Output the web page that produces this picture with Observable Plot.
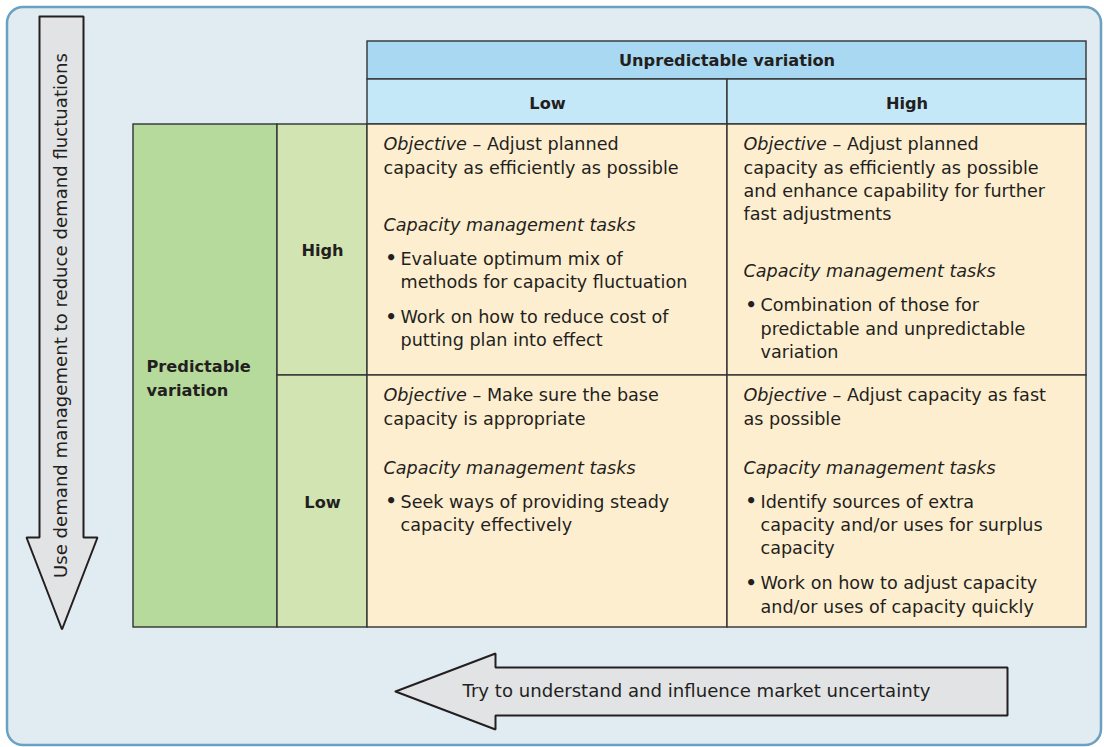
<!DOCTYPE html>
<html>
<head>
<meta charset="utf-8">
<script src="https://cdn.jsdelivr.net/npm/d3@7"></script>
<script src="https://cdn.jsdelivr.net/npm/@observablehq/plot@0.6"></script>
<style>
  html, body { margin: 0; padding: 0; background: #ffffff; }
  #chart svg { display: block; }
</style>
</head>
<body>
<div id="chart"></div>
<script>
// ---------------- DATA (content only) ----------------
const colTitle = "Unpredictable variation";
const colLevels = ["Low", "High"];
const rowTitle = "Predictable\nvariation";
const rowLevels = ["High", "Low"];
const taskHeading = "Capacity management tasks";
// objectives[row][col]
const objectives = [
  ["Objective – Adjust planned\ncapacity as efficiently as possible",
   "Objective – Adjust planned\ncapacity as efficiently as possible\nand enhance capability for further\nfast adjustments"],
  ["Objective – Make sure the base\ncapacity is appropriate",
   "Objective – Adjust capacity as fast\nas possible"]
];
// tasks[row][col] = list of bullet items
const tasks = [
  [["Evaluate optimum mix of\nmethods for capacity fluctuation",
    "Work on how to reduce cost of\nputting plan into effect"],
   ["Combination of those for\npredictable and unpredictable\nvariation"]],
  [["Seek ways of providing steady\ncapacity effectively"],
   ["Identify sources of extra\ncapacity and/or uses for surplus\ncapacity",
    "Work on how to adjust capacity\nand/or uses of capacity quickly"]]
];
const downArrowLabel = "Use demand management to reduce demand fluctuations";
const leftArrowLabel = "Try to understand and influence market uncertainty";

// ---------------- LAYOUT & STYLE ----------------
const W = 1104, H = 747;
const frame = {x1: 7, y1: 7, x2: 1101, y2: 745, r: 16};
const colEdges = [367, 727, 1086];
const headerEdges = [41, 79, 124];
const rowEdges = [124, 375, 627];
const labelEdges = [133, 277, 367];
const downArrow = {sx1: 39, sx2: 83, top: 16, headY: 537, hx1: 26, hx2: 97, tip: 629, labelY: 315};
const leftArrow = {tip: 395, headX: 495, hy1: 653, hy2: 729, sy1: 667, sy2: 715, end: 1007, labelX: 696};
const LH = 23.3, firstBase = 26, headingGap = [57, 49], taskGap = 34, bulletGap = 35;
const padX = 16, bulletX = 18, bulletTextX = 33;
const FS = 17.6, FS_BOLD = 16.2, FS_ARROW = 18.1;
const FONT = "'DejaVu Sans', Verdana, sans-serif";
const C = {
  frameFill: "#e0ebf2", frameStroke: "#6aa0c0",
  arrowFill: "#e2e3e5", ink: "#231f20", grid: "#333333",
  head1: "#a8d8f2", head2: "#c4e8f8",
  green1: "#b6da9c", green2: "#d1e4b1", cream: "#feeed0"
};

// shapes built from layout
const downPts = [
  [downArrow.sx1, downArrow.top], [downArrow.sx2, downArrow.top],
  [downArrow.sx2, downArrow.headY], [downArrow.hx2, downArrow.headY],
  [(downArrow.hx1 + downArrow.hx2) / 2, downArrow.tip],
  [downArrow.hx1, downArrow.headY], [downArrow.sx1, downArrow.headY],
  [downArrow.sx1, downArrow.top]
];
const leftPts = [
  [leftArrow.tip, (leftArrow.hy1 + leftArrow.hy2) / 2],
  [leftArrow.headX, leftArrow.hy1], [leftArrow.headX, leftArrow.sy1],
  [leftArrow.end, leftArrow.sy1], [leftArrow.end, leftArrow.sy2],
  [leftArrow.headX, leftArrow.sy2], [leftArrow.headX, leftArrow.hy2],
  [leftArrow.tip, (leftArrow.hy1 + leftArrow.hy2) / 2]
];

const boxes = [
  {x1: colEdges[0], x2: colEdges[2], y1: headerEdges[0], y2: headerEdges[1], fill: C.head1},
  ...colLevels.map((c, j) => ({x1: colEdges[j], x2: colEdges[j + 1], y1: headerEdges[1], y2: headerEdges[2], fill: C.head2})),
  {x1: labelEdges[0], x2: labelEdges[1], y1: rowEdges[0], y2: rowEdges[2], fill: C.green1},
  ...rowLevels.map((r, i) => ({x1: labelEdges[1], x2: labelEdges[2], y1: rowEdges[i], y2: rowEdges[i + 1], fill: C.green2})),
  ...rowLevels.flatMap((r, i) => colLevels.map((c, j) => ({x1: colEdges[j], x2: colEdges[j + 1], y1: rowEdges[i], y2: rowEdges[i + 1], fill: C.cream})))
];

const headerTexts = [
  {x: (colEdges[0] + colEdges[2]) / 2, y: (headerEdges[0] + headerEdges[1]) / 2, text: colTitle},
  ...colLevels.map((c, j) => ({x: (colEdges[j] + colEdges[j + 1]) / 2, y: (headerEdges[1] + headerEdges[2]) / 2 + 2, text: c})),
  ...rowLevels.map((r, i) => ({x: (labelEdges[1] + labelEdges[2]) / 2, y: (rowEdges[i] + rowEdges[i + 1]) / 2 + 1, text: r}))
];

// paragraphs: y = first baseline
const paras = [];
rowLevels.forEach((r, i) => colLevels.forEach((c, j) => {
  const x0 = colEdges[j];
  let y = rowEdges[i] + firstBase;
  const obj = objectives[i][j];
  paras.push({x: x0 + padX, y, text: obj, kind: "obj"});
  y += (obj.split("\n").length - 1) * LH + headingGap[i];
  paras.push({x: x0 + padX, y, text: taskHeading, kind: "head"});
  tasks[i][j].forEach((b, bi) => {
    y += bi ? bulletGap : taskGap;
    paras.push({x: x0 + bulletX, y, text: "•", kind: "bullet"});
    paras.push({x: x0 + bulletTextX, y, text: b, kind: "task"});
    y += (b.split("\n").length - 1) * LH;
  });
}));

const lh = LH / FS; // line height in em
const paraOpts = {x: "x", y: d => d.y - 0.71 * LH, text: "text", textAnchor: "start", lineAnchor: "top", lineHeight: lh, fontSize: FS, fill: C.ink};

const chart = Plot.plot({
  width: W, height: H, margin: 0,
  x: {domain: [0, W], range: [0, W], axis: null},
  y: {domain: [0, H], range: [0, H], axis: null},
  color: {type: "identity"},
  style: {fontFamily: FONT, background: "transparent", color: C.ink},
  marks: [
    Plot.rect([frame], {x1: "x1", x2: "x2", y1: "y1", y2: "y2", rx: frame.r, fill: C.frameFill, stroke: C.frameStroke, strokeWidth: 2.5}),
    Plot.line(downPts, {x: d => d[0], y: d => d[1], fill: C.arrowFill, stroke: C.ink, strokeWidth: 2, strokeLinejoin: "miter"}),
    Plot.line(leftPts, {x: d => d[0], y: d => d[1], fill: C.arrowFill, stroke: C.ink, strokeWidth: 2, strokeLinejoin: "miter"}),
    Plot.text([downArrowLabel], {x: (downArrow.sx1 + downArrow.sx2) / 2, y: downArrow.labelY, text: d => d, rotate: -90, fontSize: FS_ARROW, fill: C.ink}),
    Plot.text([leftArrowLabel], {x: leftArrow.labelX, y: (leftArrow.sy1 + leftArrow.sy2) / 2, text: d => d, fontSize: FS_ARROW, fill: C.ink}),
    Plot.rect(boxes, {x1: "x1", x2: "x2", y1: "y1", y2: "y2", fill: "fill", stroke: C.grid, strokeWidth: 1.4}),
    Plot.text(headerTexts, {x: "x", y: "y", text: "text", fontSize: FS_BOLD, fontWeight: "bold", fill: C.ink}),
    Plot.text([rowTitle], {x: labelEdges[0] + 13, y: (rowEdges[0] + rowEdges[2]) / 2, text: d => d, textAnchor: "start", lineHeight: 1.5, fontSize: FS_BOLD, fontWeight: "bold", fill: C.ink}),
    Plot.text(paras.filter(d => d.kind === "obj" || d.kind === "task"), paraOpts),
    Plot.text(paras.filter(d => d.kind === "head"), {...paraOpts, fontStyle: "italic"}),
    Plot.text(paras.filter(d => d.kind === "bullet"), {...paraOpts, fontWeight: "bold", dy: -0.5})
  ]
});

// italicise the "Objective" lead-in word
chart.querySelectorAll("text, tspan").forEach(t => {
  if (t.children.length === 0 && t.textContent.startsWith("Objective")) {
    const rest = t.textContent.slice("Objective".length);
    t.textContent = "";
    const it = document.createElementNS("http://www.w3.org/2000/svg", "tspan");
    it.setAttribute("font-style", "italic");
    it.textContent = "Objective";
    t.appendChild(it);
    t.appendChild(document.createTextNode(rest));
  }
});

document.getElementById("chart").appendChild(chart);
</script>
</body>
</html>
